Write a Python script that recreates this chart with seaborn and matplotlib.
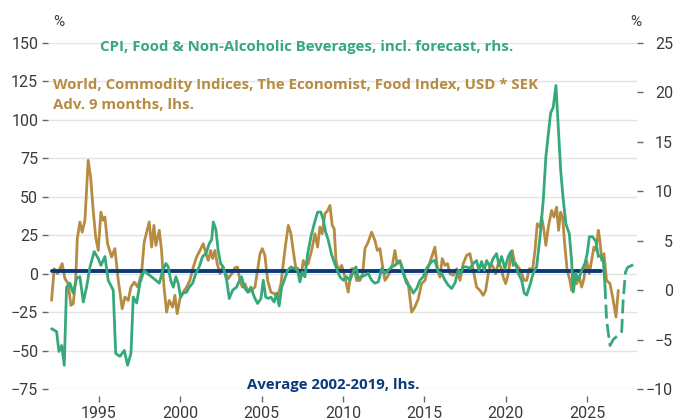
import numpy as np
import pandas as pd
import seaborn as sns
import matplotlib.pyplot as plt

# ------------------------------------------------------------------
# data
# ------------------------------------------------------------------
# Economist food index in SEK, y/y %, advanced 9 months (lhs)
food_years = [
    1992.09, 1992.25, 1992.46, 1992.60, 1992.74, 1992.91, 1993.11, 1993.28, 1993.42, 1993.57,
    1993.67, 1993.83, 1993.97, 1994.14, 1994.24, 1994.34, 1994.49, 1994.65, 1994.80, 1994.96,
    1995.12, 1995.26, 1995.37, 1995.53, 1995.78, 1995.98, 1996.19, 1996.43, 1996.60, 1996.80,
    1996.97, 1997.17, 1997.38, 1997.62, 1997.78, 1998.09, 1998.24, 1998.38, 1998.50, 1998.71,
    1998.85, 1999.00, 1999.16, 1999.32, 1999.53, 1999.67, 1999.81, 1999.98, 2000.18, 2000.39,
    2000.59, 2000.80, 2001.00, 2001.21, 2001.41, 2001.58, 2001.72, 2001.87, 2001.99, 2002.13,
    2002.27, 2002.44, 2002.60, 2002.81, 2002.95, 2003.16, 2003.36, 2003.52, 2003.67, 2003.81,
    2003.97, 2004.18, 2004.39, 2004.59, 2004.75, 2004.90, 2005.04, 2005.20, 2005.37, 2005.57,
    2005.77, 2005.98, 2006.19, 2006.33, 2006.48, 2006.64, 2006.80, 2006.94, 2007.09, 2007.25,
    2007.42, 2007.56, 2007.70, 2007.86, 2008.07, 2008.28, 2008.44, 2008.58, 2008.72, 2008.89,
    2009.06, 2009.20, 2009.34, 2009.46, 2009.57, 2009.71, 2009.92, 2010.12, 2010.32, 2010.53,
    2010.67, 2010.84, 2011.04, 2011.21, 2011.35, 2011.55, 2011.76, 2011.96, 2012.11, 2012.27,
    2012.44, 2012.58, 2012.72, 2012.89, 2013.05, 2013.19, 2013.33, 2013.50, 2013.67, 2013.81,
    2014.01, 2014.22, 2014.42, 2014.63, 2014.83, 2015.04, 2015.24, 2015.45, 2015.65, 2015.82,
    2015.96, 2016.10, 2016.27, 2016.43, 2016.57, 2016.78, 2016.99, 2017.19, 2017.39, 2017.60,
    2017.80, 2018.01, 2018.21, 2018.42, 2018.62, 2018.77, 2018.93, 2019.09, 2019.23, 2019.38,
    2019.54, 2019.71, 2019.85, 2020.00, 2020.16, 2020.32, 2020.40, 2020.57, 2020.73, 2020.88,
    2021.02, 2021.14, 2021.29, 2021.45, 2021.66, 2021.80, 2021.94, 2022.11, 2022.21, 2022.35,
    2022.47, 2022.62, 2022.82, 2022.97, 2023.13, 2023.25, 2023.38, 2023.50, 2023.64, 2023.78,
    2023.95, 2024.05, 2024.20, 2024.36, 2024.52, 2024.67, 2024.81, 2024.97, 2025.14, 2025.28,
    2025.42, 2025.55, 2025.69, 2025.79, 2025.90, 2026.04, 2026.20, 2026.41, 2026.61, 2026.78,
    2026.92,
]
food_index = [
    -17.4, 3.2, 0.0, 3.2, 6.5, -3.2, -6.5, -20.6, -19.5, -4.4,
    22.8, 33.6, 27.0, 34.7, 54.0, 73.7, 62.8, 41.0, 23.8, 15.1,
    40.0, 34.7, 36.8, 19.5, 10.8, 16.3, -4.4, -22.8, -15.2, -17.4,
    -8.7, -5.5, -8.7, 0.0, 20.5, 33.6, 17.3, 31.4, 18.4, 28.2,
    15.1, -8.7, -25.0, -17.4, -21.7, -14.1, -26.0, -16.3, -12.0, -8.7,
    -4.4, 4.3, 10.8, 15.1, 19.5, 13.0, 8.6, 15.1, 9.8, 15.1,
    6.5, 0.0, 4.3, 0.0, -3.2, 0.0, 3.8, 4.3, -4.4, -8.7,
    -6.5, -12.0, -10.9, -8.7, 2.2, 13.0, 16.3, 11.9, -4.4, -12.0,
    -13.0, -15.2, -6.5, 6.5, 19.5, 31.4, 26.0, 15.1, 4.3, 3.2,
    -2.2, 8.6, 5.4, 6.5, 15.1, 26.0, 17.3, 30.3, 26.0, 39.0,
    41.1, 44.4, 31.4, 29.3, 8.6, 2.2, 5.4, -2.2, -12.0, 3.2,
    3.2, -4.4, -4.4, 0.0, 16.3, 20.6, 27.0, 21.7, 15.1, 16.3,
    4.3, -4.4, -2.2, 1.1, 6.5, 15.1, 6.5, 8.6, 3.2, -2.2,
    -6.5, -25.0, -21.7, -16.3, -6.5, -4.4, 4.3, 10.8, 17.3, 2.2,
    -2.2, 9.8, 5.4, 6.5, 0.0, -1.1, 3.2, -4.4, 6.5, 11.9,
    13.0, 2.2, -8.7, -10.9, -14.1, -10.9, 0.0, 6.5, 4.3, 0.0,
    6.5, 4.3, -2.2, -6.5, 0.0, 13.0, 15.1, 6.0, 5.0, 2.5,
    -1.0, -4.4, -4.4, 3.2, 3.2, 15.1, 32.5, 30.3, 36.8, 28.2,
    18.4, 30.3, 41.1, 36.8, 43.3, 28.2, 40.0, 36.8, 17.3, 2.2,
    -4.4, -10.9, 0.0, -6.5, -2.2, -8.7, -3.2, 8.6, 0.0, 8.6,
    17.3, 15.1, 28.2, 21.7, 8.6, 13.0, -4.4, -6.5, -17.4, -28.2,
    -10.9,
]

# CPI food & non-alcoholic beverages, y/y % (rhs), outcome
cpi_years = [
    1992.09, 1992.40, 1992.54, 1992.71, 1992.87, 1993.01, 1993.22, 1993.42, 1993.63, 1993.83,
    1994.04, 1994.24, 1994.45, 1994.71, 1994.96, 1995.12, 1995.37, 1995.57, 1995.88, 1996.03,
    1996.29, 1996.56, 1996.76, 1996.97, 1997.11, 1997.32, 1997.52, 1997.78, 1997.97, 1998.24,
    1998.50, 1998.71, 1998.92, 1999.12, 1999.26, 1999.41, 1999.57, 1999.73, 1999.87, 2000.02,
    2000.18, 2000.39, 2000.55, 2000.76, 2000.96, 2001.16, 2001.37, 2001.58, 2001.78, 2001.93,
    2002.03, 2002.19, 2002.33, 2002.48, 2002.64, 2002.85, 2003.01, 2003.22, 2003.46, 2003.56,
    2003.77, 2003.93, 2004.14, 2004.34, 2004.55, 2004.75, 2004.96, 2005.10, 2005.25, 2005.41,
    2005.57, 2005.77, 2005.92, 2006.08, 2006.23, 2006.39, 2006.60, 2006.80, 2007.00, 2007.21,
    2007.35, 2007.50, 2007.66, 2007.83, 2008.03, 2008.23, 2008.44, 2008.64, 2008.79, 2008.93,
    2009.09, 2009.30, 2009.51, 2009.65, 2009.81, 2010.02, 2010.22, 2010.43, 2010.63, 2010.80,
    2010.94, 2011.15, 2011.35, 2011.55, 2011.76, 2011.96, 2012.17, 2012.38, 2012.58, 2012.78,
    2012.99, 2013.19, 2013.40, 2013.54, 2013.70, 2013.91, 2014.12, 2014.32, 2014.53, 2014.73,
    2014.93, 2015.14, 2015.26, 2015.45, 2015.65, 2015.85, 2016.06, 2016.27, 2016.47, 2016.68,
    2016.88, 2017.08, 2017.25, 2017.39, 2017.60, 2017.80, 2018.01, 2018.21, 2018.36, 2018.52,
    2018.68, 2018.83, 2019.03, 2019.23, 2019.44, 2019.59, 2019.75, 2019.95, 2020.16, 2020.32,
    2020.46, 2020.61, 2020.77, 2020.98, 2021.14, 2021.29, 2021.49, 2021.69, 2021.90, 2022.11,
    2022.31, 2022.47, 2022.62, 2022.76, 2022.92, 2023.09, 2023.23, 2023.38, 2023.54, 2023.70,
    2023.91, 2024.05, 2024.15, 2024.32, 2024.46, 2024.67, 2024.87, 2025.01, 2025.14, 2025.34,
    2025.55, 2025.69, 2025.84, 2026.00, 2026.10,
]
cpi_food = [
    -3.9, -4.2, -6.2, -5.6, -7.6, 0.3, 0.7, -0.3, 1.2, 1.35,
    -1.2, 0.3, 2.35, 3.9, 3.2, 2.5, 3.4, 1.0, 0.0, -6.4,
    -6.7, -6.1, -7.6, -6.4, -0.7, -1.3, 0.7, 2.0, 1.7, 1.35,
    1.0, 0.7, 2.0, 2.7, 2.35, 1.0, 0.3, 1.35, 0.7, -0.7,
    -0.3, -0.2, 0.3, 0.7, 1.7, 2.35, 3.4, 3.7, 4.7, 5.1,
    6.9, 6.1, 4.0, 2.7, 2.35, 1.0, -0.84, 0.0, 0.3, 0.7,
    1.35, 0.3, -0.2, 0.3, -0.7, -1.35, -0.84, 1.0, -0.7, -0.84,
    -0.7, -1.2, -0.3, -1.6, 0.3, 1.0, 2.0, 2.35, 2.2, 2.0,
    0.84, 1.85, 1.35, 3.7, 5.4, 6.7, 7.9, 7.9, 7.1, 5.9,
    5.1, 3.6, 2.6, 2.0, 1.35, 1.0, 1.35, 1.0, 1.85, 2.35,
    1.2, 1.35, 1.5, 1.7, 1.0, 0.7, 0.84, 2.2, 1.7, 2.0,
    2.35, 2.5, 2.9, 2.7, 1.7, 0.7, 0.33, -0.3, 0.17, 1.0,
    1.35, 2.2, 2.5, 2.9, 3.0, 1.85, 1.7, 1.0, 0.5, 0.17,
    0.7, 2.0, 1.7, 2.35, 2.35, 2.2, 2.7, 3.0, 2.0, 2.9,
    2.0, 3.0, 2.35, 3.2, 3.7, 2.5, 3.4, 2.2, 3.4, 3.9,
    2.5, 2.7, 1.7, 1.0, -0.3, -0.5, 0.5, 1.7, 2.35, 5.4,
    9.1, 13.5, 15.8, 17.9, 18.5, 20.7, 16.5, 12.1, 9.1, 6.7,
    5.7, 3.0, -0.2, 1.7, 1.0, 2.0, 2.7, 3.7, 5.4, 5.4,
    4.9, 3.4, 3.5, 3.0, 0.5,
]

# CPI food forecast (rhs, dashed)
fcst_years = [2026.10, 2026.20, 2026.41, 2026.61, 2027.13, 2027.22, 2027.36, 2027.49, 2027.88]
fcst_cpi = [0.5, -3.0, -5.6, -5.0, -4.2, -1.0, 1.8, 2.3, 2.6]

# average 2002-2019 (lhs)
avg_years = [1992.09, 2025.85]
avg_level = [1.7, 1.7]

lhs_ticks = [-75, -50, -25, 0, 25, 50, 75, 100, 125, 150]
rhs_ticks = [-10, -5, 0, 5, 10, 15, 20, 25]
year_ticks = [1995, 2000, 2005, 2010, 2015, 2020, 2025]

GREEN = "#36a97a"
GOLD = "#b68b42"
NAVY = "#0b3a78"
TXT = "#3a3a3a"

# ------------------------------------------------------------------
# plot
# ------------------------------------------------------------------
sns.set_theme(style="white")
plt.rcParams["font.family"] = ["Roboto", "DejaVu Sans"]

fig, ax = plt.subplots(figsize=(6.75, 4.2), dpi=100)
fig.subplots_adjust(left=0.0711, right=0.9437, bottom=0.0738, top=0.8976)
ax2 = ax.twinx()

sns.lineplot(x=food_years, y=food_index, ax=ax, color=GOLD, linewidth=2.0, estimator=None, zorder=3)
sns.lineplot(x=avg_years, y=avg_level, ax=ax, color=NAVY, linewidth=2.8, estimator=None, zorder=4)
sns.lineplot(x=cpi_years, y=cpi_food, ax=ax2, color=GREEN, linewidth=2.0, estimator=None)
sns.lineplot(x=fcst_years, y=fcst_cpi, ax=ax2, color=GREEN, linewidth=2.0, estimator=None,
             linestyle=(0, (5, 2)))

ax.set_xlim(1991.87, 2028.07)
ax.set_ylim(-75, 150)
ax2.set_ylim(-10, 25)
ax.set_yticks(lhs_ticks)
ax2.set_yticks(rhs_ticks)
ax.set_xticks(year_ticks)

ax.grid(axis="y", color="#e3e3e3", linewidth=1.0)
ax.grid(axis="x", visible=False)
ax2.grid(False)
for a in (ax, ax2):
    for s in a.spines.values():
        s.set_visible(False)
    a.set_xlabel("")
    a.set_ylabel("")

ax.spines["bottom"].set_position(("outward", 5))
ax.tick_params(axis="x", bottom=True, length=4, width=1, color="#666666", pad=3,
               labelsize=11.5, labelcolor=TXT)
ax.tick_params(axis="y", left=True, length=4, width=1, color="#666666", pad=3,
               labelsize=11.5, labelcolor=TXT)
ax2.tick_params(axis="y", right=True, length=4, width=1, color="#666666", pad=22,
                labelsize=11.5, labelcolor=TXT)
for lab in ax2.get_yticklabels():
    lab.set_horizontalalignment("right")

def fx(px):
    return px / 675

def fy(py):
    return 1 - py / 420

LBL = ["Open Sans", "DejaVu Sans"]

fig.text(fx(53), fy(22), "%", fontsize=11, color=TXT, va="center", ha="left")
fig.text(fx(630), fy(22), "%", fontsize=11, color=TXT, va="center", ha="left")

fig.text(fx(100), fy(47), "CPI, Food & Non-Alcoholic Beverages, incl. forecast, rhs.",
         color=GREEN, fontsize=10.8, fontweight="bold", va="center", family=LBL)
fig.text(fx(53), fy(85), "World, Commodity Indices, The Economist, Food Index, USD * SEK",
         color=GOLD, fontsize=10.8, fontweight="bold", va="center", family=LBL)
fig.text(fx(53), fy(105), "Adv. 9 months, lhs.",
         color=GOLD, fontsize=10.8, fontweight="bold", va="center", family=LBL)
fig.text(fx(247), fy(385), "Average 2002-2019, lhs.",
         color=NAVY, fontsize=10.8, fontweight="bold", va="center", family=LBL)

fig.savefig("out.png", dpi=100)
print("Saved out.png")
